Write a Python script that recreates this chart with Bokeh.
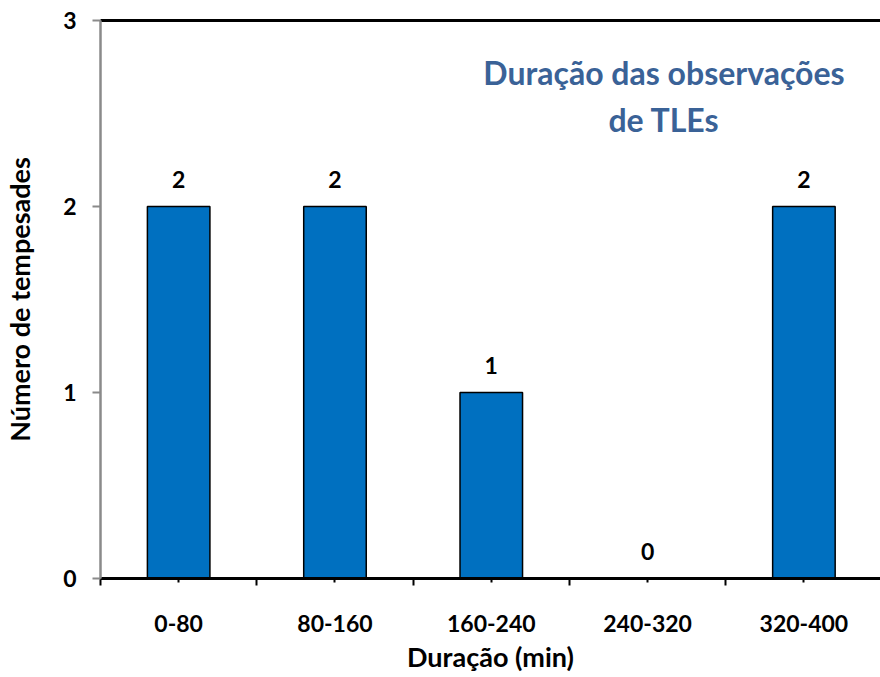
from bokeh.plotting import figure
from bokeh.models import Range1d, FixedTicker, LinearAxis, Label, ColumnDataSource
from bokeh.core.properties import value
from bokeh.embed import file_html
from bokeh.resources import INLINE

categories = ["0-80", "80-160", "160-240", "240-320", "320-400"]
counts = [2, 2, 1, 0, 2]
y_ticks = [0, 1, 2, 3]
title_lines = ["Duração das observações", "de TLEs"]
x_title = "Duração (min)"
y_title = "Número de tempesades"

FONT = "Lato"
FS = "23px"
AFS = "27px"
BAR = "#0070C0"
TITLE_C = "#3A6297"

centers = [i + 0.5 for i in range(len(categories))]
bounds = list(range(len(categories) + 1))

p = figure(width=880, height=677, x_range=Range1d(0, 4.99), y_range=Range1d(0, 3),
           output_backend="svg", toolbar_location=None,
           min_border_left=97, min_border_right=0, min_border_top=20, min_border_bottom=99)
p.outline_line_color = None
p.xgrid.visible = False
p.ygrid.visible = False

src = ColumnDataSource(dict(x=centers, top=counts, lab=[str(c) for c in counts],
                            ly=[c + 0.146 for c in counts]))
p.vbar(x="x", top="top", width=0.4, bottom=0, source=src, fill_color=BAR,
       line_color="black", line_width=1.5)
p.text(x="x", y="ly", text="lab", source=src, text_align="center", text_baseline="middle",
       text_font=value(FONT), text_font_style="bold", text_font_size=FS, text_color="black")

# x axis
xa = p.xaxis[0]
xa.ticker = FixedTicker(ticks=centers, minor_ticks=bounds)
xa.major_label_overrides = {c: lab for c, lab in zip(centers, categories)}
xa.axis_line_color = "black"
xa.axis_line_width = 3
xa.major_tick_line_color = "black"
xa.major_tick_line_width = 2
xa.major_tick_in = 0
xa.major_tick_out = 4
xa.minor_tick_line_color = "black"
xa.minor_tick_line_width = 2
xa.minor_tick_in = 0
xa.minor_tick_out = 7
xa.major_label_text_font = FONT
xa.major_label_text_font_style = "bold"
xa.major_label_text_font_size = FS
xa.major_label_text_color = "black"
xa.major_label_standoff = 29
xa.axis_label = x_title
xa.axis_label_text_font = FONT
xa.axis_label_text_font_style = "bold"
xa.axis_label_text_font_size = AFS
xa.axis_label_text_color = "black"
xa.axis_label_standoff = 5

# y axis
ya = p.yaxis[0]
ya.ticker = FixedTicker(ticks=y_ticks, minor_ticks=[])
ya.axis_line_color = "#8a8a8a"
ya.axis_line_width = 2.5
ya.major_tick_line_color = "#8a8a8a"
ya.major_tick_line_width = 2
ya.major_tick_in = 0
ya.major_tick_out = 8
ya.minor_tick_line_color = None
ya.major_label_text_font = FONT
ya.major_label_text_font_style = "bold"
ya.major_label_text_font_size = FS
ya.major_label_text_color = "black"
ya.major_label_standoff = 16
ya.axis_label = y_title
ya.axis_label_text_font = FONT
ya.axis_label_text_font_style = "bold"
ya.axis_label_text_font_size = AFS
ya.axis_label_text_color = "black"
ya.axis_label_standoff = 24

# top border
top = LinearAxis(ticker=FixedTicker(ticks=[]), axis_line_color="black", axis_line_width=3,
                 major_tick_line_color=None, minor_tick_line_color=None,
                 major_label_text_font_size="0px")
p.add_layout(top, "above")

for txt, yy in zip(title_lines, [2.72, 2.47]):
    p.add_layout(Label(x=3.605, y=yy, text=txt, text_align="center", text_baseline="middle",
                       text_font=FONT, text_font_style="bold", text_font_size="32px",
                       text_color=TITLE_C))

open("out.html", "w").write(file_html(p, INLINE))
